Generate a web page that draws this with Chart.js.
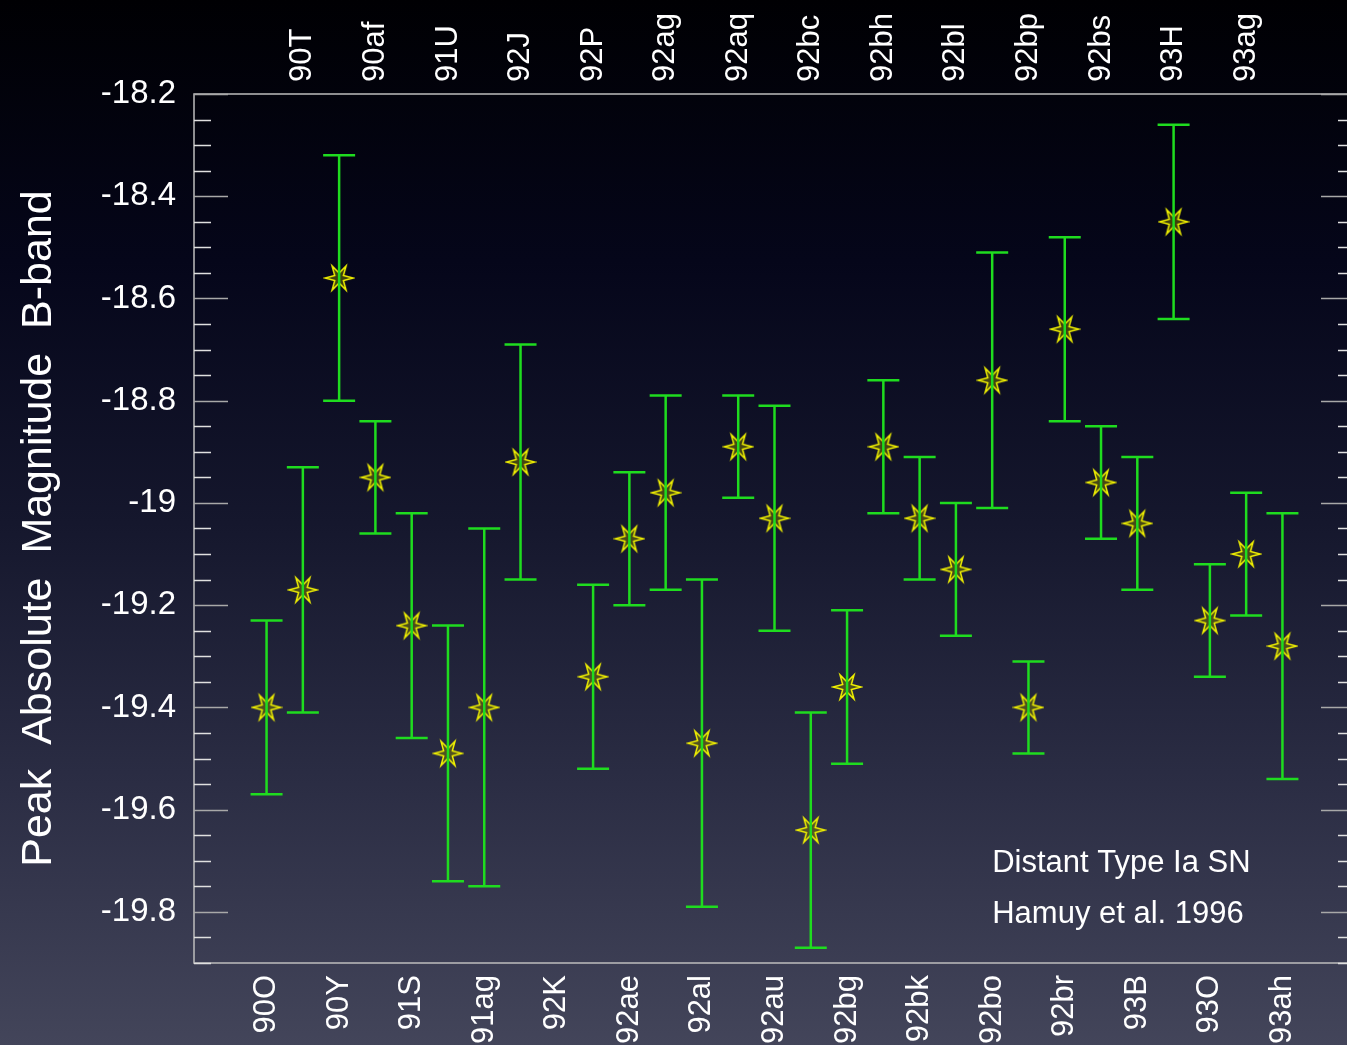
<!DOCTYPE html>
<html>
<head>
<meta charset="utf-8">
<script src="https://cdn.jsdelivr.net/npm/chart.js@4"></script>
<style>
  html, body { margin: 0; padding: 0; overflow: hidden; }
  body {
    width: 1347px; height: 1045px;
    background: linear-gradient(to bottom, #000003 0%, #05061a 25%, #15172d 50%, #2b2d44 75%, #43455a 100%);
  }
  #wrap { width: 1370px; height: 1045px; }
</style>
</head>
<body>
<div id="wrap"><canvas id="myChart" width="1370" height="1045"></canvas></div>
<script>
// supernova names, in plot order (even index -> bottom label, odd -> top label)
const names = ['90O', '90T', '90Y', '90af', '91S', '91U', '91ag', '92J', '92K', '92P',
    '92ae', '92ag', '92al', '92aq', '92au', '92bc', '92bg', '92bh', '92bk', '92bl',
    '92bo', '92bp', '92br', '92bs', '93B', '93H', '93O', '93ag', '93ah'];

// peak magnitude (92K has no point)
const mags = [-19.40, -19.17, -18.56, -18.95, -19.24, -19.49, -19.40, -18.92, null, -19.34,
    -19.07, -18.98, -19.47, -18.89, -19.03, -19.64, -19.36, -18.89, -19.03, -19.13,
    -18.76, -19.40, -18.66, -18.96, -19.04, -18.45, -19.23, -19.10, -19.28];

// error bar ends
const upper = [-19.23, -18.93, -18.32, -18.84, -19.02, -19.24, -19.05, -18.69, null, -19.16,
    -18.94, -18.79, -19.15, -18.79, -18.81, -19.41, -19.21, -18.76, -18.91, -19.00,
    -18.51, -19.31, -18.48, -18.85, -18.91, -18.26, -19.12, -18.98, -19.02];
const lower = [-19.57, -19.41, -18.80, -19.06, -19.46, -19.74, -19.75, -19.15, null, -19.52,
    -19.20, -19.17, -19.79, -18.99, -19.25, -19.87, -19.51, -19.02, -19.15, -19.26,
    -19.01, -19.49, -18.84, -19.07, -19.17, -18.64, -19.34, -19.22, -19.54];

const yTicks = [-19.8, -19.6, -19.4, -19.2, -19.0, -18.8, -18.6, -18.4, -18.2];

const FONT = '"Liberation Sans", Arial, sans-serif';
Chart.defaults.font.family = FONT;
Chart.defaults.color = '#ffffff';

const LABEL_SIZE = 31;

// звезда для маркера
const star = document.createElement('canvas');
star.width = 32; star.height = 32;
(() => {
    const c = star.getContext('2d');
    c.beginPath();
    for (let k = 0; k < 12; k++) {
        const r = k % 2 === 0 ? 14 : 5;
        const a = k * Math.PI / 6;
        const px = 16 + r * Math.cos(a), py = 16 + r * Math.sin(a);
        if (k === 0) c.moveTo(px, py); else c.lineTo(px, py);
    }
    c.closePath();
    c.fillStyle = 'rgba(120,120,0,0.5)';
    c.fill();
    c.strokeStyle = '#f2f200';
    c.lineWidth = 1.5;
    c.stroke();
})();

// рамка и засечки
const framePlugin = {
    id: 'frame',
    beforeDatasetsDraw(chart) {
        const { ctx, chartArea: a, scales: { y } } = chart;
        ctx.save();
        ctx.strokeStyle = '#bdbdbd';
        ctx.lineWidth = 1.5;
        ctx.beginPath();
        ctx.moveTo(a.right, a.top); ctx.lineTo(a.left, a.top);
        ctx.lineTo(a.left, a.bottom); ctx.lineTo(a.right, a.bottom);
        ctx.stroke();
        for (let k = 0; k <= 34; k++) {
            const v = y.min + k * 0.05;
            const py = Math.round(y.getPixelForValue(v)) + 0.5;
            const major = yTicks.some(t => Math.abs(t - v) < 1e-6);
            const len = major ? 34 : 17;
            ctx.strokeStyle = major ? '#a8a8a8' : '#e0e0e0';
            ctx.beginPath();
            ctx.moveTo(a.left, py); ctx.lineTo(a.left + len, py);
            ctx.moveTo(a.right, py); ctx.lineTo(a.right - len, py);
            ctx.stroke();
        }
        ctx.restore();
    }
};

// планки погрешностей поверх звёзд
const errorBars = {
    id: 'errorBars',
    afterDatasetsDraw(chart) {
        const { ctx, scales: { x, y } } = chart;
        ctx.save();
        ctx.strokeStyle = '#1fdc1f';
        ctx.lineWidth = 2.5;
        mags.forEach((m, i) => {
            if (m === null) return;
            const px = x.getPixelForValue(i);
            const yt = y.getPixelForValue(upper[i]);
            const yb = y.getPixelForValue(lower[i]);
            ctx.beginPath();
            ctx.moveTo(px, yt); ctx.lineTo(px, yb);
            ctx.moveTo(px - 16, yt); ctx.lineTo(px + 16, yt);
            ctx.moveTo(px - 16, yb); ctx.lineTo(px + 16, yb);
            ctx.stroke();
        });
        ctx.restore();
    }
};

// подпись в углу
const notePlugin = {
    id: 'note',
    afterDraw(chart) {
        const { ctx, scales: { x, y } } = chart;
        ctx.save();
        ctx.fillStyle = '#ffffff';
        ctx.font = '31px ' + FONT;
        ctx.textBaseline = 'middle';
        ctx.fillText('Distant Type Ia SN', x.getPixelForValue(20), y.getPixelForValue(-19.705));
        ctx.fillText('Hamuy et al. 1996', x.getPixelForValue(20), y.getPixelForValue(-19.805));
        ctx.restore();
    }
};

const xAxis = (position, parity, height) => ({
    type: 'linear',
    position: position,
    min: -2,
    max: 30,
    afterBuildTicks: s => {
        s.ticks = names.map((n, i) => ({ value: i })).filter(t => t.value % 2 === parity);
    },
    afterFit: s => {
        s.height = height;
        s.paddingLeft = 0;
        s.paddingRight = 0;
    },
    grid: { display: false, drawTicks: false },
    border: { display: false },
    ticks: {
        autoSkip: false,
        minRotation: 90,
        maxRotation: 90,
        padding: 12,
        // повёрнутые подписи сверху Chart.js сдвигает на высоту строки
        labelOffset: position === 'top' ? LABEL_SIZE * 1.2 : 0,
        color: '#ffffff',
        font: { size: LABEL_SIZE },
        callback: v => names[v]
    }
});

new Chart(document.getElementById('myChart'), {
    type: 'scatter',
    data: {
        datasets: [{
            data: mags.map((m, i) => ({ x: i, y: m })),
            pointStyle: star,
            pointRadius: 14,
            pointHoverRadius: 14
        }]
    },
    options: {
        responsive: false,
        animation: false,
        layout: { padding: 0 },
        plugins: { legend: { display: false }, tooltip: { enabled: false } },
        scales: {
            x: xAxis('bottom', 0, 82),
            x2: xAxis('top', 1, 94),
            y: {
                type: 'linear',
                min: -19.9,
                max: -18.2,
                afterBuildTicks: s => { s.ticks = yTicks.map(v => ({ value: v })); },
                afterFit: s => {
                    s.width = 194;
                    s.paddingTop = 0;
                    s.paddingBottom = 0;
                },
                grid: { display: false, drawTicks: false },
                border: { display: false },
                ticks: {
                    color: '#ffffff',
                    padding: 18,
                    font: { size: 33 },
                    callback: v => String(+v.toFixed(1))
                },
                title: {
                    display: true,
                    text: 'Peak  Absolute  Magnitude  B-band',
                    color: '#ffffff',
                    font: { size: 43 },
                    padding: { top: 13, bottom: 0 }
                }
            }
        }
    },
    plugins: [framePlugin, errorBars, notePlugin]
});
</script>
</body>
</html>
